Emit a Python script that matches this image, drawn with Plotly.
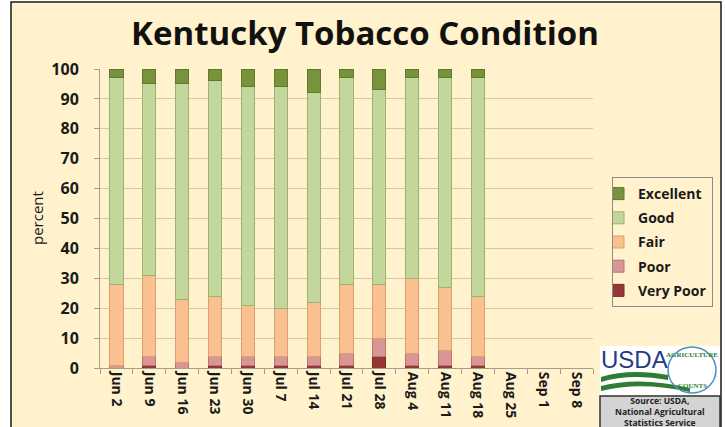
import plotly.graph_objects as go

weeks = ["Jun 2", "Jun 9", "Jun 16", "Jun 23", "Jun 30", "Jul 7", "Jul 14",
         "Jul 21", "Jul 28", "Aug 4", "Aug 11", "Aug 18", "Aug 25", "Sep 1", "Sep 8"]
very_poor = [0, 1, 0, 1, 1, 1, 1, 1, 4, 1, 1, 1, None, None, None]
poor      = [1, 3, 2, 3, 3, 3, 3, 4, 6, 4, 5, 3, None, None, None]
fair      = [27, 27, 21, 20, 17, 16, 18, 23, 18, 25, 21, 20, None, None, None]
good      = [69, 64, 72, 72, 73, 74, 70, 69, 65, 67, 70, 73, None, None, None]
excellent = [3, 5, 5, 4, 6, 6, 8, 3, 7, 3, 3, 3, None, None, None]

series = [
    ("Very Poor", very_poor, "#953735", "#7a2a28"),
    ("Poor", poor, "#D99694", "#b87472"),
    ("Fair", fair, "#FAC090", "#d9a070"),
    ("Good", good, "#C3D69B", "#9bb36d"),
    ("Excellent", excellent, "#77933C", "#5f7a2c"),
]

FONT = "Open Sans"
CREAM = "#FFF2CC"

# plot area in pixels
L, R, T, B = 100, 593, 69, 368
W, H = 725, 427

def px(x):
    return (x - L) / (R - L)

def py(y):
    return (B - y) / (B - T)

fig = go.Figure()
for i, (name, vals, col, edge) in enumerate(series):
    fig.add_trace(go.Bar(
        x=weeks, y=vals, name=f"<b>{name}</b>",
        marker=dict(color=col, line=dict(color=edge, width=1)),
        legendgroup=name, legendrank=len(series) - i,
    ))

shapes = [
    # outer frame
    dict(type="rect", xref="paper", yref="paper", layer="below",
         x0=px(11), x1=px(721), y0=py(440), y1=py(2),
         fillcolor=CREAM, line=dict(color="#1a1a1a", width=1.5)),
    # USDA logo background
    dict(type="rect", xref="paper", yref="paper",
         x0=px(600), x1=px(720), y0=py(395), y1=py(346),
         fillcolor="white", line=dict(width=0)),
    # green swooshes
    dict(type="path", xref="paper", yref="paper",
         path=f"M {px(601)} {py(377)} Q {px(630)} {py(368)} {px(668)} {py(375)} L {px(668)} {py(380)} Q {px(630)} {py(373)} {px(601)} {py(382)} Z",
         fillcolor="#2e7d32", line=dict(width=0)),
    dict(type="path", xref="paper", yref="paper",
         path=f"M {px(601)} {py(386)} Q {px(640)} {py(376)} {px(690)} {py(388)} L {px(690)} {py(392)} Q {px(640)} {py(381)} {px(601)} {py(391)} Z",
         fillcolor="#2e7d32", line=dict(width=0)),
    dict(type="circle", xref="paper", yref="paper",
         x0=px(668), x1=px(716), y0=py(393), y1=py(347),
         fillcolor="rgba(0,0,0,0)", line=dict(color="#4a8fc0", width=1.5)),
    # source box
    dict(type="rect", xref="paper", yref="paper",
         x0=px(600), x1=px(720), y0=py(430), y1=py(396),
         fillcolor="#D4D4D4", line=dict(color="#333333", width=1.5)),
]

annotations = [
    dict(text="percent", xref="paper", yref="paper", x=px(37), y=py(218),
         textangle=-90, showarrow=False, xanchor="center", yanchor="middle",
         font=dict(family=FONT, size=15, color="#1a1a1a")),
    dict(text="USDA", xref="paper", yref="paper", x=px(599), y=py(359),
         showarrow=False, xanchor="left", yanchor="middle",
         font=dict(family="Liberation Sans Narrow, Liberation Sans", size=24, color="#1f3c88")),
    dict(text="<b>AGRICULTURE</b>", xref="paper", yref="paper", x=px(692), y=py(355),
         showarrow=False, xanchor="center", yanchor="middle",
         font=dict(family="Liberation Serif", size=7, color="#2e7d32")),
    dict(text="<b>COUNTS</b>", xref="paper", yref="paper", x=px(692), y=py(386),
         showarrow=False, xanchor="center", yanchor="middle",
         font=dict(family="Liberation Serif", size=7, color="#2e7d32")),
    dict(text="<b>Source: USDA,<br>National Agricultural<br>Statistics Service</b>",
         xref="paper", yref="paper", x=px(660), y=py(412),
         showarrow=False, xanchor="center", yanchor="middle",
         font=dict(family=FONT, size=8.5, color="#222222")),
]

fig.update_layout(
    width=W, height=H,
    margin=dict(l=L, r=W - R, t=T, b=H - B, autoexpand=False),
    barmode="stack", bargap=0.6,
    paper_bgcolor="white", plot_bgcolor="rgba(0,0,0,0)",
    title=dict(text="<b>Kentucky Tobacco Condition</b>", x=365 / W, y=1 - 33 / H,
               xanchor="center", yanchor="middle",
               font=dict(family=FONT, size=33, color="#111111")),
    legend=dict(traceorder="grouped", x=px(612), y=py(177),
                xanchor="left", yanchor="top",
                bgcolor=CREAM, bordercolor="#8c8c8c", borderwidth=1,
                font=dict(family=FONT, size=14, color="#1a1a1a"),
                indentation=-15, tracegroupgap=3),
    shapes=shapes, annotations=annotations,
    showlegend=True,
)

fig.update_xaxes(type="category", categoryorder="array", categoryarray=weeks,
                 tickangle=90, ticks="outside", tickson="boundaries", ticklen=5,
                 tickcolor="#a89f8a", showline=True, linecolor="#a89f8a", linewidth=1,
                 tickfont=dict(family=FONT, size=14, color="#1a1a1a"),
                 ticktext=[f"<b>{w}</b>" for w in weeks], tickvals=weeks,
                 showgrid=False)
fig.update_yaxes(range=[0, 100], dtick=10, tick0=0, showgrid=True,
                 gridcolor="#D6C8A4", gridwidth=1,
                 ticks="outside", ticklen=5, tickcolor="#a89f8a",
                 showline=True, linecolor="#a89f8a", linewidth=1,
                 tickfont=dict(family=FONT, size=16, color="#1a1a1a"),
                 tickprefix="<b>", ticksuffix="</b>", ticklabelstandoff=12,
                 zeroline=False)

fig.write_html("out.html", config={"displayModeBar": False},
               post_script="document.body.style.margin='0';document.body.style.overflow='hidden';")
